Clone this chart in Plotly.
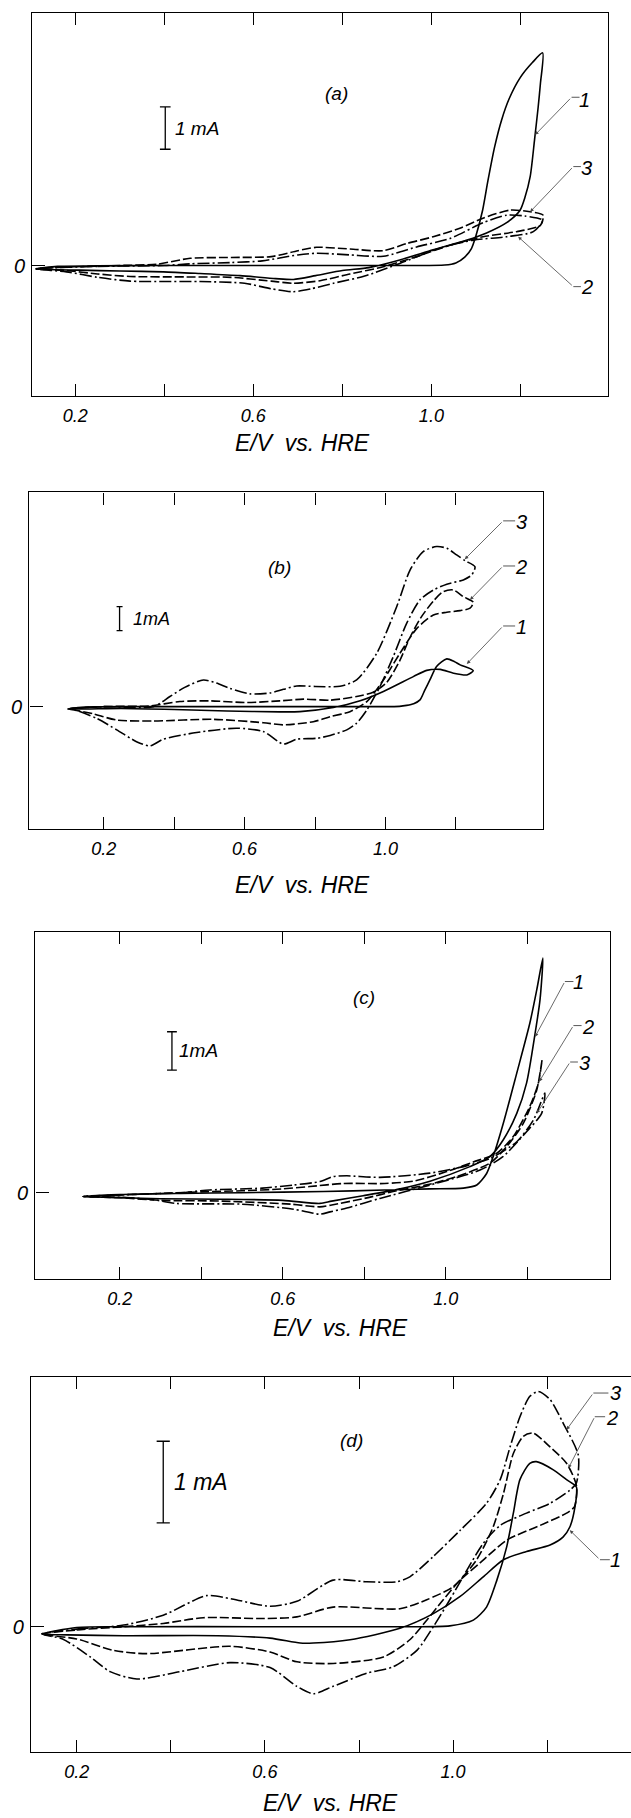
import plotly.graph_objects as go

# ---------------- data (E in V vs. HRE, I in mA) ----------------
# Panel (a)
A1_E = [0.112, 0.16, 0.25, 0.40, 0.60, 0.80, 0.95, 1.03, 1.055, 1.075, 1.09, 1.10, 1.115, 1.127, 1.142, 1.158, 1.175, 1.20, 1.227, 1.250,
        1.245, 1.240, 1.232, 1.222, 1.21, 1.199, 1.17, 1.124, 1.08, 1.004, 0.929, 0.86, 0.80, 0.74, 0.69, 0.65, 0.57, 0.48, 0.398, 0.30, 0.21, 0.112]
A1_I = [-0.08, -0.02, -0.01, 0.0, 0.0, 0.0, 0.0, 0.01, 0.06, 0.2, 0.4, 0.7, 1.3, 2.0, 2.8, 3.45, 3.95, 4.45, 4.8, 5.03,
        4.3, 3.75, 2.99, 2.1, 1.6, 1.3, 1.02, 0.77, 0.6, 0.37, 0.13, -0.05, -0.12, -0.24, -0.33, -0.31, -0.24, -0.19, -0.15, -0.13, -0.11, -0.08]
A2_E = [0.112, 0.2, 0.3, 0.383, 0.458, 0.55, 0.64, 0.70, 0.742, 0.817, 0.892, 0.945, 1.004, 1.064, 1.116, 1.177, 1.222, 1.251,
        1.245, 1.191, 1.116, 1.042, 0.967, 0.892, 0.817, 0.75, 0.689, 0.64, 0.55, 0.45, 0.323, 0.25, 0.18, 0.112]
A2_I = [-0.08, -0.03, 0.0, 0.03, 0.17, 0.19, 0.21, 0.35, 0.43, 0.39, 0.35, 0.52, 0.68, 0.88, 1.12, 1.31, 1.27, 1.19,
        0.95, 0.8, 0.68, 0.48, 0.21, -0.03, -0.2, -0.36, -0.42, -0.37, -0.28, -0.27, -0.26, -0.2, -0.12, -0.08]
A3_E = [0.112, 0.25, 0.40, 0.46, 0.55, 0.62, 0.70, 0.742, 0.817, 0.892, 0.967, 1.042, 1.116, 1.169, 1.21, 1.25,
        1.229, 1.169, 1.094, 1.019, 0.929, 0.85, 0.78, 0.73, 0.689, 0.64, 0.58, 0.48, 0.323, 0.25, 0.18, 0.112]
A3_I = [-0.08, -0.02, 0.0, 0.04, 0.07, 0.11, 0.25, 0.29, 0.25, 0.22, 0.44, 0.64, 1.01, 1.19, 1.17, 1.07,
        0.8, 0.68, 0.6, 0.41, 0.05, -0.25, -0.42, -0.55, -0.62, -0.55, -0.42, -0.38, -0.37, -0.28, -0.15, -0.08]

# Panel (b)
B1_E = [0.099, 0.15, 0.3, 0.6, 0.9, 1.04, 1.06, 1.08, 1.098, 1.112, 1.126, 1.145, 1.174, 1.195, 1.212, 1.249,
        1.231, 1.193, 1.155, 1.117, 1.079, 0.994, 0.928, 0.852, 0.757, 0.70, 0.55, 0.40, 0.25, 0.15, 0.099]
B1_I = [-0.1, -0.02, 0.0, 0.0, 0.0, 0.01, 0.05, 0.12, 0.28, 0.7, 1.11, 1.67, 1.99, 1.88, 1.74, 1.5,
        1.32, 1.39, 1.55, 1.51, 1.25, 0.63, 0.24, -0.04, -0.21, -0.22, -0.18, -0.12, -0.08, -0.1, -0.1]
B2_E = [0.099, 0.2, 0.33, 0.416, 0.5, 0.606, 0.70, 0.767, 0.843, 0.918, 0.965, 1.003, 1.04, 1.07, 1.10, 1.136, 1.164, 1.193, 1.221, 1.249,
        1.24, 1.212, 1.174, 1.136, 1.089, 1.041, 0.994, 0.947, 0.899, 0.843, 0.795, 0.71, 0.653, 0.511, 0.34, 0.237, 0.17, 0.12, 0.099]
B2_I = [-0.1, 0.0, 0.03, 0.21, 0.24, 0.17, 0.24, 0.31, 0.27, 0.42, 0.6, 1.0, 1.9, 2.9, 3.7, 4.4, 4.79, 4.86, 4.58, 4.35,
        4.1, 4.0, 3.93, 3.82, 3.26, 2.22, 1.11, 0.21, -0.21, -0.42, -0.63, -0.76, -0.67, -0.53, -0.6, -0.56, -0.3, -0.15, -0.1]
B3_E = [0.099, 0.2, 0.341, 0.388, 0.43, 0.483, 0.52, 0.558, 0.615, 0.672, 0.71, 0.748, 0.80, 0.871, 0.918, 0.975, 1.032, 1.07, 1.107, 1.145, 1.174, 1.202, 1.226, 1.254,
        1.245, 1.221, 1.174, 1.136, 1.098, 1.06, 1.022, 0.984, 0.947, 0.918, 0.89, 0.843, 0.805, 0.748, 0.71, 0.653, 0.577, 0.464, 0.369, 0.331, 0.293, 0.237, 0.18, 0.12, 0.099]
B3_I = [-0.1, 0.0, 0.0, 0.42, 0.8, 1.11, 0.98, 0.76, 0.53, 0.57, 0.72, 0.86, 0.84, 0.85, 1.11, 2.22, 4.17, 5.7, 6.46, 6.67, 6.6, 6.32, 6.08, 5.83,
        5.49, 5.28, 5.1, 4.86, 4.45, 3.47, 2.08, 0.83, -0.14, -0.69, -0.97, -1.2, -1.32, -1.36, -1.56, -1.04, -0.9, -1.08, -1.36, -1.64, -1.46, -0.97, -0.49, -0.15, -0.1]

# Panel (c)
C1_E = [0.110, 0.2, 0.35, 0.5, 0.7, 0.85, 0.96, 1.043, 1.076, 1.10, 1.116, 1.141, 1.174, 1.206, 1.223, 1.238,
        1.231, 1.219, 1.198, 1.174, 1.141, 1.108, 1.059, 0.961, 0.879, 0.797, 0.72, 0.691, 0.6, 0.45, 0.3, 0.2, 0.110]
C1_I = [-0.1, -0.05, -0.02, 0.0, 0.03, 0.07, 0.1, 0.12, 0.2, 0.5, 0.94, 1.81, 3.12, 4.42, 5.29, 6.12,
        5.03, 4.16, 2.86, 2.07, 1.38, 0.94, 0.68, 0.3, 0.08, -0.08, -0.22, -0.28, -0.2, -0.17, -0.16, -0.13, -0.1]
C2_E = [0.110, 0.25, 0.4, 0.5, 0.6, 0.666, 0.748, 0.85, 0.92, 1.002, 1.067, 1.125, 1.165, 1.206, 1.227, 1.236,
        1.223, 1.19, 1.149, 1.108, 1.026, 0.96, 0.88, 0.80, 0.72, 0.691, 0.62, 0.45, 0.3, 0.2, 0.110]
C2_I = [-0.1, -0.04, 0.02, 0.05, 0.1, 0.16, 0.24, 0.24, 0.3, 0.55, 0.8, 1.03, 1.46, 2.25, 2.86, 3.46,
        2.68, 1.81, 1.2, 0.77, 0.42, 0.22, 0.05, -0.15, -0.32, -0.37, -0.3, -0.22, -0.2, -0.13, -0.1]
C3_E = [0.110, 0.25, 0.35, 0.421, 0.55, 0.626, 0.691, 0.724, 0.757, 0.838, 0.961, 1.05, 1.11, 1.174, 1.215, 1.243,
        1.235, 1.198, 1.14, 1.084, 0.961, 0.838, 0.757, 0.716, 0.691, 0.626, 0.5, 0.339, 0.28, 0.2, 0.110]
C3_I = [-0.1, -0.04, 0.0, 0.07, 0.12, 0.2, 0.29, 0.42, 0.44, 0.4, 0.51, 0.7, 0.9, 1.33, 1.9, 2.6,
        2.07, 1.59, 0.94, 0.59, 0.2, -0.15, -0.4, -0.5, -0.56, -0.43, -0.3, -0.28, -0.18, -0.12, -0.1]

# Panel (d)
D1_E = [0.126, 0.20, 0.3, 0.6, 0.9, 0.993, 1.043, 1.071, 1.093, 1.114, 1.128, 1.142, 1.163, 1.177, 1.213, 1.241, 1.262,
        1.259, 1.248, 1.234, 1.206, 1.156, 1.107, 1.064, 1.015, 0.958, 0.887, 0.781, 0.703, 0.675, 0.611, 0.5, 0.3, 0.18, 0.126]
D1_I = [-0.09, -0.01, 0.0, 0.0, 0.0, 0.01, 0.08, 0.24, 0.57, 0.98, 1.39, 1.8, 2.0, 2.02, 1.92, 1.8, 1.71,
        1.47, 1.22, 1.1, 1.0, 0.92, 0.82, 0.61, 0.37, 0.16, -0.02, -0.16, -0.2, -0.2, -0.14, -0.11, -0.11, -0.1, -0.09]
D2_E = [0.126, 0.2, 0.3, 0.384, 0.469, 0.597, 0.668, 0.745, 0.887, 0.944, 1.0, 1.05, 1.085, 1.107, 1.128, 1.149, 1.17, 1.206, 1.241, 1.262,
        1.258, 1.241, 1.185, 1.114, 1.057, 1.015, 0.979, 0.944, 0.908, 0.852, 0.745, 0.668, 0.611, 0.526, 0.349, 0.278, 0.2, 0.126]
D2_I = [-0.09, -0.04, 0.0, 0.04, 0.11, 0.1, 0.12, 0.24, 0.22, 0.33, 0.49, 0.82, 1.22, 1.63, 2.12, 2.33, 2.37, 2.2, 2.0, 1.73,
        1.47, 1.39, 1.24, 1.06, 0.78, 0.57, 0.33, 0.08, -0.16, -0.37, -0.45, -0.43, -0.31, -0.24, -0.33, -0.29, -0.15, -0.09]
D3_E = [0.126, 0.2, 0.3, 0.384, 0.476, 0.53, 0.611, 0.668, 0.745, 0.816, 0.88, 0.908, 0.958, 1.015, 1.071, 1.1, 1.121, 1.142, 1.163, 1.181, 1.206, 1.234, 1.266,
        1.262, 1.248, 1.206, 1.156, 1.1, 1.064, 1.029, 0.993, 0.958, 0.923, 0.873, 0.816, 0.745, 0.703, 0.668, 0.611, 0.526, 0.42, 0.328, 0.271, 0.229, 0.17, 0.126]
D3_I = [-0.09, -0.03, 0.02, 0.14, 0.38, 0.34, 0.25, 0.31, 0.57, 0.55, 0.55, 0.61, 0.86, 1.18, 1.51, 1.8, 2.2, 2.57, 2.82, 2.88, 2.78, 2.49, 2.1,
        1.76, 1.67, 1.51, 1.39, 1.24, 1.02, 0.69, 0.33, 0.0, -0.29, -0.49, -0.57, -0.73, -0.82, -0.73, -0.5, -0.44, -0.55, -0.64, -0.55, -0.37, -0.15, -0.09]

X_TICKS = [0.2, 0.4, 0.6, 0.8, 1.0, 1.2]
X_TICK_TEXT = ["0.2", "", "0.6", "", "1.0", ""]
CURVE_NUMBERS = ["1", "2", "3"]
PANEL_NAMES = ["(a)", "(b)", "(c)", "(d)"]
X_TITLE = "E/V  vs. HRE"

# ---------------- layout helpers ----------------
W, H = 631, 1818
FONT = "Liberation Sans"
DASHES = ["solid", "9px,3px", "12px,3px,2px,3px"]

panels = [
    dict(curves=[(A1_E, A1_I), (A2_E, A2_I), (A3_E, A3_I)],
         box=(32.2, 12.7, 607.6, 395.7), xr=[0.103, 1.396], yr=[-3.08, 5.98], right=True,
         name_at=(0.786, 4.08), bar=(0.402, 2.75, 3.75, 0.012), bar_lbl=(0.42, 3.25, "1 mA", 19),
         title=(302, 443),
         leaders=[(1.345, 3.91, 1.315, 3.98, 1.333, 1.233, 3.09),
                  (1.349, -0.50, 1.319, -0.50, 1.336, 1.195, 0.68),
                  (1.349, 2.30, 1.319, 2.34, 1.336, 1.222, 1.27)]),
    dict(curves=[(B1_E, B1_I), (B2_E, B2_I), (B3_E, B3_I)],
         box=(29.4, 492.3, 543.3, 829.0), xr=[-0.011, 1.448], yr=[-5.10, 8.93], right=True,
         name_at=(0.70, 5.78), bar=(0.245, 3.17, 4.17, 0.0085), bar_lbl=(0.277, 3.67, "1mA", 18),
         title=(302, 885),
         leaders=[(1.385, 3.33, 1.334, 3.36, 1.368, 1.231, 1.78),
                  (1.385, 5.83, 1.334, 5.86, 1.368, 1.240, 4.45),
                  (1.385, 7.71, 1.334, 7.74, 1.368, 1.225, 6.14)]),
    dict(curves=[(C1_E, C1_I), (C2_E, C2_I), (C3_E, C3_I)],
         box=(35.4, 931.7, 609.7, 1279.3), xr=[-0.007, 1.402], yr=[-2.26, 6.81], right=True,
         name_at=(0.80, 5.08), bar=(0.328, 3.2, 4.2, 0.012), bar_lbl=(0.34, 3.7, "1mA", 19),
         title=(340, 1328),
         leaders=[(1.325, 5.51, 1.292, 5.51, 1.313, 1.219, 4.07),
                  (1.349, 4.33, 1.313, 4.36, 1.333, 1.229, 2.90),
                  (1.341, 3.38, 1.305, 3.41, 1.324, 1.223, 2.07)]),
    dict(curves=[(D1_E, D1_I), (D2_E, D2_I), (D3_E, D3_I)],
         box=(31.0, 1376.7, 631.0, 1751.7), xr=[0.103, 1.378], yr=[-1.53, 3.06], right=False,
         name_at=(0.785, 2.28), bar=(0.384, 1.27, 2.27, 0.014), bar_lbl=(0.403, 1.77, "1 mA", 23),
         title=(330, 1803),
         leaders=[(1.344, 0.82, 1.312, 0.82, 1.333, 1.248, 1.18),
                  (1.337, 2.55, 1.301, 2.57, 1.323, 1.245, 1.94),
                  (1.344, 2.86, 1.298, 2.86, 1.330, 1.241, 2.41)]),
]

fig = go.Figure()
annotations, shapes = [], []
layout = dict(width=W, height=H, margin=dict(l=0, r=0, t=0, b=0), autosize=False,
              paper_bgcolor="white", plot_bgcolor="white", showlegend=False)

for k, p in enumerate(panels):
    n = "" if k == 0 else str(k + 1)
    xa, ya = "x" + n, "y" + n
    x0, y0, x1, y1 = p["box"]
    for ci, (E, I) in enumerate(p["curves"]):
        fig.add_trace(go.Scatter(x=E, y=I, mode="lines", xaxis=xa, yaxis=ya,
                                 line=dict(color="black", width=1.6, dash=DASHES[ci],
                                           shape="spline", smoothing=0.7),
                                 hoverinfo="skip"))
    layout["xaxis" + n] = dict(domain=[x0 / W, x1 / W], range=p["xr"], anchor=ya,
                               showline=True, linecolor="black", linewidth=1.4, mirror="ticks",
                               ticks="inside", ticklen=12, tickwidth=1.2, tickcolor="black",
                               tickvals=X_TICKS, ticktext=X_TICK_TEXT, ticklabelstandoff=3,
                               tickfont=dict(family=FONT, size=18, style="italic", color="black"),
                               showgrid=False, zeroline=False, fixedrange=True)
    layout["yaxis" + n] = dict(domain=[1 - y1 / H, 1 - y0 / H], range=p["yr"], anchor=xa,
                               showline=True, linecolor="black", linewidth=1.4, mirror=p["right"],
                               ticks="inside", ticklen=13, tickwidth=1.2, tickcolor="black",
                               tickvals=[0], ticktext=["0"], ticklabelstandoff=2,
                               tickfont=dict(family=FONT, size=20, style="italic", color="black"),
                               showgrid=False, zeroline=False, fixedrange=True)
    # x-axis title
    annotations.append(dict(x=p["title"][0] / W, y=1 - p["title"][1] / H, xref="paper", yref="paper",
                            text=X_TITLE, showarrow=False, xanchor="center", yanchor="middle",
                            font=dict(family=FONT, size=23, style="italic", color="black")))
    # panel name
    annotations.append(dict(x=p["name_at"][0], y=p["name_at"][1], xref=xa, yref=ya, text=PANEL_NAMES[k],
                            showarrow=False, font=dict(family=FONT, size=19, style="italic", color="black")))
    # 1 mA scale bar
    bx, by0, by1, cw = p["bar"]
    shapes.append(dict(type="line", xref=xa, yref=ya, x0=bx, x1=bx, y0=by0, y1=by1,
                       line=dict(color="black", width=1.3)))
    for yy in (by0, by1):
        shapes.append(dict(type="line", xref=xa, yref=ya, x0=bx - cw, x1=bx + cw, y0=yy, y1=yy,
                           line=dict(color="black", width=1.3)))
    lx, ly, lt, ls = p["bar_lbl"]
    annotations.append(dict(x=lx, y=ly, xref=xa, yref=ya, text=lt, showarrow=False, xanchor="left",
                            font=dict(family=FONT, size=ls, style="italic", color="black")))
    # curve number leaders
    for num, (tx, ty, ax_, ay_, hx, px, py) in zip(CURVE_NUMBERS, p["leaders"]):
        annotations.append(dict(x=tx, y=ty, xref=xa, yref=ya, text=num, showarrow=False,
                                xanchor="center", yanchor="middle",
                                font=dict(family=FONT, size=20, style="italic", color="black")))
        shapes.append(dict(type="line", xref=xa, yref=ya, x0=ax_, x1=hx, y0=ay_, y1=ay_,
                           line=dict(color="#444", width=0.9)))
        annotations.append(dict(x=px, y=py, xref=xa, yref=ya, ax=ax_, ay=ay_, axref=xa, ayref=ya,
                                text="", showarrow=True, arrowhead=2, arrowsize=0.9, arrowwidth=0.8,
                                arrowcolor="#444", standoff=0, startstandoff=0))

layout["annotations"] = annotations
layout["shapes"] = shapes
fig.update_layout(**layout)
fig.write_html("out.html")
